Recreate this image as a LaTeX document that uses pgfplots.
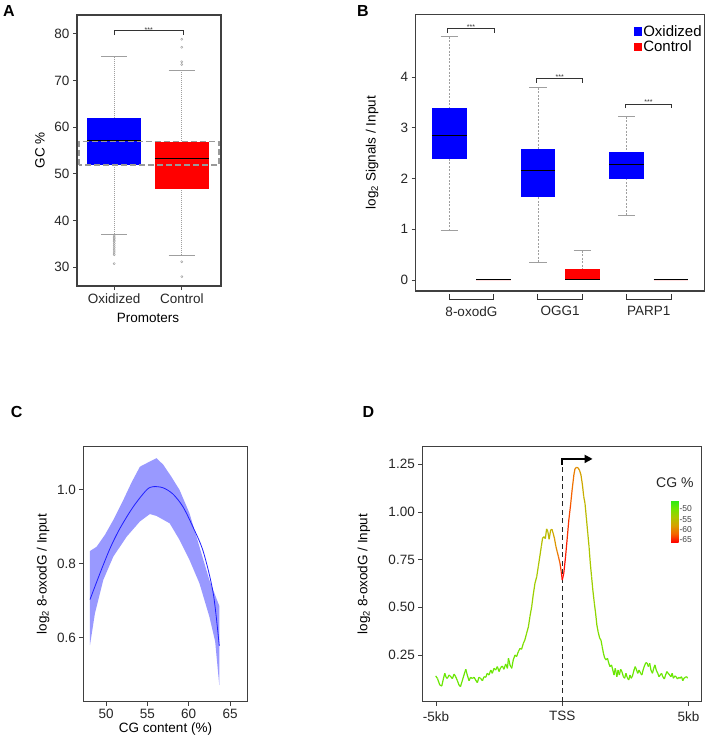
\documentclass[border=0pt]{standalone}
\usepackage{fontspec}
\setmainfont{Liberation Sans}
\usepackage{pgfplots}
\pgfplotsset{compat=1.18}
\usepgfplotslibrary{statistics}
\usetikzlibrary{arrows.meta}

\newcommand\tfont{\fontsize{13.5}{15}\selectfont}

\pgfplotsset{
  panel/.style={scale only axis, clip=false,
    axis line style={draw=black!75,line width=1.3pt},
    tick style={draw=black!75,line width=0.8pt}, major tick length=4pt, tick align=outside,
    xtick pos=bottom, ytick pos=left,
    tick label style={font=\tfont, text=black!85}, label style={font=\tfont},
    /pgf/number format/assume math mode=true},
  boxplot/draw direction=y,
  whiskline/.style={draw=gray!75, fill=none, line width=0.6pt, dash pattern=on 1pt off 1pt},
  whiskcap/.style={draw=gray!75, fill=none, line width=1pt, solid},
  boxplot/every median/.style={draw=black, fill=none, line width=1pt},
  boxplot/every box/.style={draw=none},
  boxplot/draw/lower whisker/.code={%
    \draw[/pgfplots/whiskline]
      (boxplot box cs:\pgfplotsboxplotvalue{lower whisker},0.5) --
      (boxplot box cs:\pgfplotsboxplotvalue{lower quartile},0.5);
    \draw[/pgfplots/whiskcap]
      (boxplot whisker cs:\pgfplotsboxplotvalue{lower whisker},0) --
      (boxplot whisker cs:\pgfplotsboxplotvalue{lower whisker},1);
  },
  boxplot/draw/upper whisker/.code={%
    \draw[/pgfplots/whiskline]
      (boxplot box cs:\pgfplotsboxplotvalue{upper whisker},0.5) --
      (boxplot box cs:\pgfplotsboxplotvalue{upper quartile},0.5);
    \draw[/pgfplots/whiskcap]
      (boxplot whisker cs:\pgfplotsboxplotvalue{upper whisker},0) --
      (boxplot whisker cs:\pgfplotsboxplotvalue{upper whisker},1);
  },
  nowhisk/.style={/pgfplots/boxplot/draw/lower whisker/.code={}, /pgfplots/boxplot/draw/upper whisker/.code={}},
  nolow/.style={/pgfplots/boxplot/draw/lower whisker/.code={}},
  outl/.style={mark=o, mark size=1.1pt, mark options={draw=gray!80, fill=none, line width=0.4pt, solid}},
}

\begin{document}
\begin{tikzpicture}
\useasboundingbox (0pt,0pt) rectangle (709pt,-741pt);

% panel letters
\node[font=\bfseries\fontsize{16}{16}\selectfont] at (9pt,-10.5pt) {A};
\node[font=\bfseries\fontsize{16}{16}\selectfont] at (363pt,-10.5pt) {B};
\node[font=\bfseries\fontsize{16}{16}\selectfont] at (16.7pt,-411.7pt) {C};
\node[font=\bfseries\fontsize{16}{16}\selectfont] at (368.5pt,-412pt) {D};

% ---------------- A ----------------
\begin{axis}[panel, at={(77pt,-15pt)}, anchor=north west, width=144pt, height=271pt,
  xmin=0.45, xmax=2.58, ymin=26, ymax=84,
  ytick={30,40,...,80}, xtick={1,2}, xticklabels={Oxidized,Control},
  ylabel={GC \%}, xlabel={Promoters},
  ylabel style={at={(axis description cs:-0.257,0.5)}, anchor=center},
  xlabel style={at={(axis description cs:0.493,-0.118)}, anchor=center},
  boxplot/box extend=0.8, boxplot/whisker extend=0.386]
\addplot[boxplot prepared={draw position=1, lower whisker=37.05, lower quartile=52.0,
    median=57.1, upper quartile=61.9, upper whisker=75.07},
  fill=blue, draw=blue, outl] table[row sep=\\, y index=0] {
  v\\ 36.7\\ 36.4\\ 36.1\\ 35.8\\ 35.5\\ 35.1\\ 34.7\\ 34.3\\ 33.9\\ 33.5\\ 33.1\\ 32.7\\ 30.8\\
};
\addplot[boxplot prepared={draw position=2, lower whisker=32.6, lower quartile=46.7,
    median=53.3, upper quartile=56.9, upper whisker=72.2},
  fill=red, draw=red, outl] table[row sep=\\, y index=0] {
  v\\ 78.8\\ 77.1\\ 74.0\\ 73.4\\ 31.2\\ 28.0\\
};
\draw[gray!80, line width=1.1pt, dash pattern=on 6pt off 3pt]
  (axis cs:0.48,51.9) rectangle (axis cs:2.55,56.9);
\draw[black!80, line width=0.9pt] (axis cs:1,79.7) -- (axis cs:1,80.6) -- (axis cs:2.02,80.6) -- (axis cs:2.02,79.7);
\node[font=\fontsize{7}{7}\selectfont, anchor=south, inner sep=0.5pt, text=black!80] at (axis cs:1.51,80.2) {***};
\end{axis}

% ---------------- B ----------------
\begin{axis}[panel, at={(415.7pt,-14.3pt)}, anchor=north west, width=288.6pt, height=276.7pt,
  xmin=0.245, xmax=6.75, ymin=-0.217, ymax=5.24,
  ytick={0,1,2,3,4}, xtick={1.5,3.5,5.5}, xticklabels={8-oxodG,OGG1,PARP1},
  xtick style={draw=none}, xticklabel style={yshift=-8pt},
  ylabel={log\textsubscript{2} Signals / Input},
  ylabel style={at={(axis description cs:-0.151,0.5)}, anchor=center},
  boxplot/box extend=0.78, boxplot/whisker extend=0.39,
  whiskline/.style={draw=gray!75, fill=none, line width=0.6pt, dash pattern=on 2pt off 1.5pt},
  legend image code/.code={\fill[#1] (0pt,-4.2pt) rectangle (8.5pt,4.2pt);},
  legend cell align=left,
  legend style={at={(axis description cs:0.995,0.965)}, anchor=north east, draw=none, fill=none,
    inner sep=0pt, font=\fontsize{15}{16}\selectfont, row sep=1pt, nodes={inner sep=1pt}}]
\addlegendimage{fill=blue, draw=none}
\addlegendentry{Oxidized}
\addlegendimage{fill=red, draw=none}
\addlegendentry{Control}
\addplot[boxplot prepared={draw position=1, lower whisker=0.97, lower quartile=2.38,
    median=2.85, upper quartile=3.39, upper whisker=4.80}, fill=blue, draw=blue] coordinates {};
\addplot[boxplot prepared={draw position=2, lower whisker=0, lower quartile=0,
    median=0, upper quartile=0, upper whisker=0}, fill=red, nowhisk] coordinates {};
\addplot[boxplot prepared={draw position=3, lower whisker=0.35, lower quartile=1.64,
    median=2.16, upper quartile=2.59, upper whisker=3.79}, fill=blue, draw=blue] coordinates {};
\addplot[boxplot prepared={draw position=4, lower whisker=0, lower quartile=0,
    median=0, upper quartile=0.22, upper whisker=0.58}, fill=red, draw=red, nolow] coordinates {};
\addplot[boxplot prepared={draw position=5, lower whisker=1.28, lower quartile=1.99,
    median=2.28, upper quartile=2.53, upper whisker=3.22}, fill=blue, draw=blue] coordinates {};
\addplot[boxplot prepared={draw position=6, lower whisker=0, lower quartile=0,
    median=0, upper quartile=0, upper whisker=0}, fill=red, nowhisk] coordinates {};
% significance brackets
\draw[black!80, line width=0.9pt] (axis cs:0.96,4.87) -- (axis cs:0.96,4.96) -- (axis cs:2.01,4.96) -- (axis cs:2.01,4.87);
\draw[black!80, line width=0.9pt] (axis cs:2.97,3.89) -- (axis cs:2.97,3.97) -- (axis cs:4.0,3.97) -- (axis cs:4.0,3.89);
\draw[black!80, line width=0.9pt] (axis cs:4.97,3.39) -- (axis cs:4.97,3.47) -- (axis cs:6.0,3.47) -- (axis cs:6.0,3.39);
\node[font=\fontsize{7}{7}\selectfont, anchor=south, inner sep=0.5pt, text=black!80] at (axis cs:1.49,4.93) {***};
\node[font=\fontsize{7}{7}\selectfont, anchor=south, inner sep=0.5pt, text=black!80] at (axis cs:3.49,3.94) {***};
\node[font=\fontsize{7}{7}\selectfont, anchor=south, inner sep=0.5pt, text=black!80] at (axis cs:5.49,3.44) {***};
% group brackets
\draw[black!80, line width=1pt] (axis cs:1,-0.276) -- (axis cs:1,-0.381) -- (axis cs:2,-0.381) -- (axis cs:2,-0.276);
\draw[black!80, line width=1pt] (axis cs:2.99,-0.276) -- (axis cs:2.99,-0.381) -- (axis cs:4.01,-0.381) -- (axis cs:4.01,-0.276);
\draw[black!80, line width=1pt] (axis cs:4.99,-0.276) -- (axis cs:4.99,-0.381) -- (axis cs:6.01,-0.381) -- (axis cs:6.01,-0.276);
\end{axis}

% ---------------- C ----------------
\begin{axis}[panel, at={(83.3pt,-446.7pt)}, anchor=north west, width=164.4pt, height=255pt,
  xmin=47.25, xmax=67.14, ymin=0.427, ymax=1.116,
  xtick={50,55,60,65}, ytick={0.6,0.8,1.0},
  yticklabel style={/pgf/number format/fixed, /pgf/number format/fixed zerofill, /pgf/number format/precision=1},
  ylabel={log\textsubscript{2} 8-oxodG / Input}, xlabel={CG content (\%)},
  ylabel style={at={(axis description cs:-0.245,0.5)}, anchor=center},
  xlabel style={at={(axis description cs:0.5,-0.107)}, anchor=center}]
% confidence band: upper edge left to right, then lower edge right to left
\addplot[fill={rgb,255:red,153;green,153;blue,255}, draw=none] coordinates {
  (48.06,0.834) (48.87,0.846) (49.87,0.878) (50.88,0.918) (52.09,0.972) (53.1,1.020)
  (54.1,1.062) (55.3,1.076) (56.1,1.085) (56.9,1.068) (57.9,1.035) (58.9,0.999)
  (60.1,0.936) (61.3,0.846) (62.5,0.756) (63.7,0.686)
  (63.7,0.472) (63.2,0.590) (62.5,0.657) (61.3,0.747) (60.1,0.810) (58.9,0.864)
  (57.7,0.909) (56.1,0.929) (55.3,0.934) (54.1,0.914) (52.5,0.873) (50.88,0.819)
  (49.67,0.756) (48.66,0.666) (48.06,0.580)} --cycle;
\addplot[draw={rgb,255:red,30;green,30;blue,255}, line width=0.8pt, smooth, tension=0.5] coordinates {
  (48.06,0.703) (49.27,0.774) (50.5,0.842) (51.7,0.896) (53.3,0.954) (54.9,0.999)
  (55.7,1.008) (56.9,1.005) (58.1,0.988) (59.3,0.954) (60.5,0.900) (61.76,0.833)
  (62.97,0.720) (63.7,0.578)};
\end{axis}

% ---------------- D ----------------
\begin{axis}[panel, at={(422.3pt,-446.7pt)}, anchor=north west, width=279.4pt, height=255pt,
  xmin=-5.54, xmax=5.52, ymin=0.005, ymax=1.342,
  xtick={-5,0,5}, xticklabels={-5kb,TSS,5kb}, ytick={0.25,0.5,0.75,1.0,1.25},
  yticklabel style={/pgf/number format/fixed, /pgf/number format/fixed zerofill, /pgf/number format/precision=2},
  xticklabel style={yshift=-2pt},
  ylabel={log\textsubscript{2} 8-oxodG / Input},
  ylabel style={at={(axis description cs:-0.209,0.5)}, anchor=center},
  colormap={cg}{rgb255=(255,0,0) rgb255=(245,100,0) rgb255=(215,160,0) rgb255=(170,200,0) rgb255=(110,230,0) rgb255=(40,235,20)},
  point meta min=-66.1, point meta max=-45.7,
  colorbar,
  colorbar style={at={(662.7pt,-500pt)}, anchor=north west, scale only axis,
    width=7.3pt, height=42.3pt,
    ytick={-50,-55,-60,-65}, yticklabels={-50,-55,-60,-65}, yticklabel pos=right,
    major tick length=0pt, axis line style={draw=none}, ytick style={draw=none},
    yticklabel style={font=\fontsize{8.5}{9}\selectfont, inner sep=0.8pt, text=black!75}}]
\draw[black!85, line width=1.3pt, dash pattern=on 5pt off 3.5pt] (axis cs:0,0.005) -- (axis cs:0,1.25);
\draw[black, line width=1.8pt, -{Triangle[length=8pt,width=8pt]}] (axis cs:0,1.245) |- (axis cs:1.2,1.278);
\addplot[mesh, point meta=explicit, line width=1.2pt] coordinates {
 (-5.01,0.140) [-49.5] (-4.94,0.127) [-49.5] (-4.85,0.093) [-49.5] (-4.77,0.087) [-49.5]
 (-4.70,0.128) [-49.5] (-4.65,0.154) [-49.5] (-4.60,0.133) [-49.5] (-4.55,0.127) [-49.5]
 (-4.48,0.145) [-49.5] (-4.41,0.136) [-49.5] (-4.35,0.126) [-49.5] (-4.28,0.150) [-49.5]
 (-4.22,0.136) [-49.5] (-4.15,0.115) [-49.5] (-4.09,0.093) [-49.5] (-4.03,0.084) [-49.5]
 (-3.97,0.110) [-49.5] (-3.89,0.145) [-49.5] (-3.82,0.175) [-49.5] (-3.76,0.145) [-49.5]
 (-3.69,0.115) [-49.5] (-3.63,0.133) [-49.5] (-3.56,0.127) [-49.5] (-3.49,0.133) [-49.5]
 (-3.43,0.119) [-49.5] (-3.36,0.105) [-49.5] (-3.30,0.133) [-49.5] (-3.23,0.127) [-49.5]
 (-3.16,0.115) [-49.5] (-3.10,0.136) [-49.5] (-3.03,0.133) [-49.5] (-2.97,0.154) [-49.5]
 (-2.90,0.145) [-49.5] (-2.83,0.171) [-49.5] (-2.77,0.154) [-49.5] (-2.70,0.180) [-49.5]
 (-2.64,0.171) [-49.5] (-2.57,0.189) [-49.5] (-2.50,0.163) [-49.5] (-2.44,0.184) [-49.5]
 (-2.37,0.192) [-49.5] (-2.31,0.175) [-49.5] (-2.24,0.203) [-49.5] (-2.17,0.180) [-49.5]
 (-2.13,0.233) [-49.5] (-2.07,0.198) [-49.5] (-2.00,0.180) [-49.5] (-1.94,0.224) [-49.8]
 (-1.87,0.250) [-50.0] (-1.81,0.241) [-50.0] (-1.74,0.267) [-50.2] (-1.67,0.285) [-50.4]
 (-1.61,0.280) [-50.6] (-1.54,0.311) [-50.8] (-1.48,0.329) [-51.0] (-1.41,0.364) [-51.3]
 (-1.34,0.398) [-51.6] (-1.28,0.451) [-52.0] (-1.21,0.503) [-52.4] (-1.15,0.565) [-52.8]
 (-1.08,0.626) [-53.2] (-1.01,0.661) [-53.6] (-0.95,0.713) [-54.0] (-0.88,0.774) [-54.4]
 (-0.83,0.818) [-54.7] (-0.78,0.862) [-55.0] (-0.72,0.870) [-55.0] (-0.67,0.860) [-55.0]
 (-0.62,0.911) [-55.2] (-0.57,0.897) [-55.4] (-0.52,0.857) [-55.7] (-0.46,0.905) [-56.0]
 (-0.41,0.909) [-56.5] (-0.36,0.888) [-57.2] (-0.31,0.862) [-58.0] (-0.25,0.818) [-59.0]
 (-0.20,0.792) [-60.0] (-0.15,0.765) [-61.3] (-0.09,0.731) [-62.8] (-0.04,0.687) [-64.5]
 (0.00,0.643) [-66.0] (0.06,0.678) [-65.8] (0.13,0.765) [-65.2] (0.19,0.853) [-64.5]
 (0.26,0.958) [-63.6] (0.33,1.037) [-62.6] (0.39,1.115) [-61.6] (0.46,1.194) [-60.6]
 (0.50,1.224) [-60.0] (0.56,1.234) [-59.4] (0.63,1.231) [-58.8] (0.69,1.216) [-58.2]
 (0.74,1.194) [-57.6] (0.80,1.141) [-57.0] (0.85,1.080) [-56.4] (0.90,1.045) [-55.8]
 (0.95,0.975) [-55.3] (1.01,0.888) [-54.8] (1.06,0.818) [-54.3] (1.11,0.731) [-53.8]
 (1.16,0.661) [-53.3] (1.21,0.591) [-52.8] (1.27,0.521) [-52.3] (1.32,0.469) [-51.9]
 (1.37,0.407) [-51.5] (1.42,0.372) [-51.1] (1.48,0.338) [-50.8] (1.53,0.329) [-50.5]
 (1.58,0.294) [-50.3] (1.63,0.259) [-50.1] (1.68,0.233) [-49.9] (1.74,0.224) [-49.7]
 (1.79,0.233) [-49.5] (1.84,0.207) [-49.5] (1.89,0.189) [-49.5] (1.95,0.198) [-49.5]
 (2.00,0.171) [-49.5] (2.05,0.145) [-49.5] (2.10,0.180) [-49.5] (2.16,0.136) [-49.5]
 (2.21,0.171) [-49.5] (2.26,0.145) [-49.5] (2.31,0.175) [-49.5] (2.36,0.163) [-49.5]
 (2.42,0.136) [-49.5] (2.47,0.128) [-49.5] (2.52,0.154) [-49.5] (2.57,0.133) [-49.5]
 (2.63,0.119) [-49.5] (2.68,0.145) [-49.5] (2.73,0.128) [-49.5] (2.78,0.140) [-49.5]
 (2.84,0.171) [-49.5] (2.89,0.189) [-49.5] (2.94,0.171) [-49.5] (2.99,0.154) [-49.5]
 (3.04,0.171) [-49.5] (3.10,0.154) [-49.5] (3.15,0.145) [-49.5] (3.20,0.171) [-49.5]
 (3.25,0.192) [-49.5] (3.31,0.210) [-49.5] (3.36,0.207) [-49.5] (3.41,0.189) [-49.5]
 (3.46,0.207) [-49.5] (3.51,0.171) [-49.5] (3.57,0.154) [-49.5] (3.62,0.180) [-49.5]
 (3.67,0.198) [-49.5] (3.72,0.171) [-49.5] (3.78,0.154) [-49.5] (3.83,0.136) [-49.5]
 (3.88,0.145) [-49.5] (3.93,0.154) [-49.5] (3.98,0.136) [-49.5] (4.04,0.124) [-49.5]
 (4.09,0.145) [-49.5] (4.14,0.163) [-49.5] (4.19,0.154) [-49.5] (4.25,0.145) [-49.5]
 (4.30,0.136) [-49.5] (4.35,0.154) [-49.5] (4.40,0.128) [-49.5] (4.45,0.140) [-49.5]
 (4.51,0.136) [-49.5] (4.56,0.124) [-49.5] (4.61,0.133) [-49.5] (4.66,0.128) [-49.5]
 (4.72,0.136) [-49.5] (4.77,0.115) [-49.5] (4.82,0.128) [-49.5] (4.87,0.133) [-49.5]
 (4.93,0.136) [-49.5] (4.96,0.128) [-49.5]};
\node[font=\fontsize{14}{15}\selectfont, text=black!85] at (rel axis cs:0.904,0.859) {CG \%};
\end{axis}
\end{tikzpicture}
\end{document}
